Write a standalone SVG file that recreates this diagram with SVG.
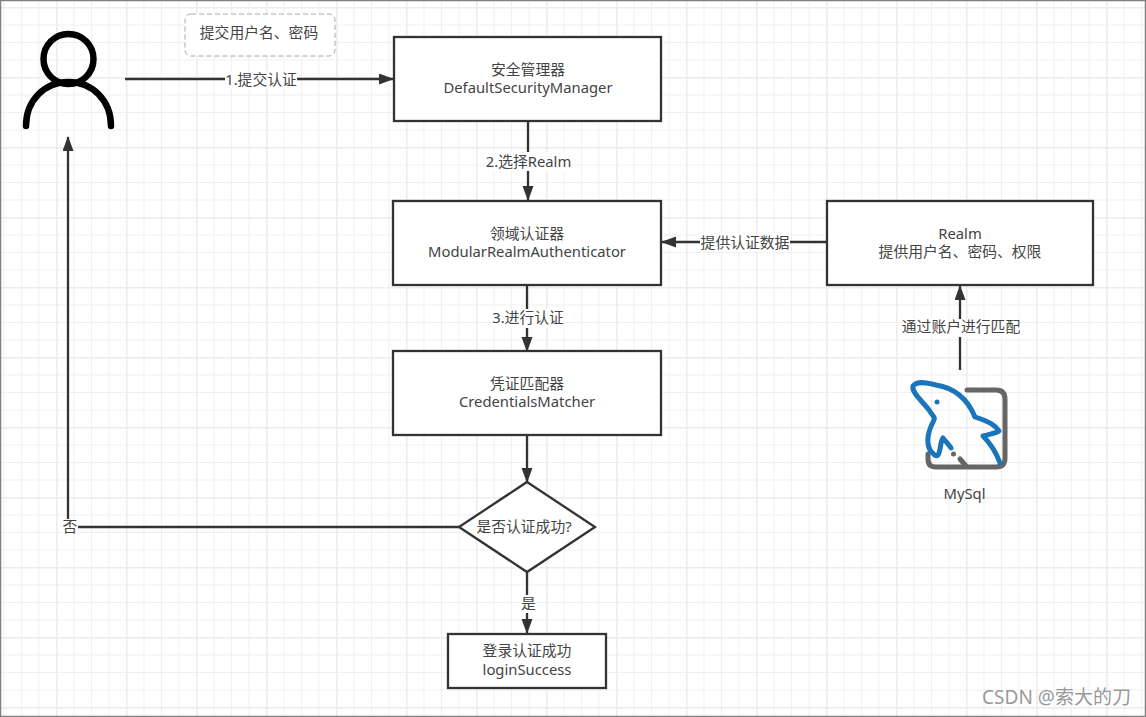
<svg xmlns="http://www.w3.org/2000/svg" width="1146" height="717" viewBox="0 0 1146 717">
<style>
text{font-family:"Noto Sans","Noto Sans CJK SC",sans-serif;font-size:14.8px;fill:#444;text-anchor:middle}
.n{fill:#fff;stroke:#333;stroke-width:2.300}
.c{fill:none;stroke:#333;stroke-width:2.300}
.lb{fill:#fff;stroke:none}
</style>
<defs>
<marker id="a" markerUnits="userSpaceOnUse" markerWidth="16" markerHeight="12" refX="14" refY="5.500" orient="auto"><path d="M0 0L15 5.500L0 11L0 0Z" fill="#333"/></marker>
<pattern id="g" width="17.5" height="17.5" patternUnits="userSpaceOnUse" x="3.5" y="-10.5"><path d="M0.5 0V17.5M0 0.5H17.5" fill="none" stroke="#f0f0f0" stroke-width="1"/></pattern>
<pattern id="G" width="70" height="70" patternUnits="userSpaceOnUse" x="-14" y="7"><path d="M0.5 0V70M0 0.5H70" fill="none" stroke="#ececec" stroke-width="2"/></pattern>
</defs>
<rect width="1146" height="717" fill="#fff"/>
<rect width="1146" height="717" fill="url(#g)"/>
<rect width="1146" height="717" fill="url(#G)"/>
<rect x="0.5" y="0.5" width="1145" height="716" fill="none" stroke="#808080" stroke-width="1.5"/>
<g id="connectors">
<path class="c" d="M125 79H393" marker-end="url(#a)"/>
<path class="c" d="M528 122V200" marker-end="url(#a)"/>
<path class="c" d="M527 285V351" marker-end="url(#a)"/>
<path class="c" d="M527 436V482" marker-end="url(#a)"/>
<path class="c" d="M527 572V633" marker-end="url(#a)"/>
<path class="c" d="M459 527H68V137" marker-end="url(#a)"/>
<path class="c" d="M827 242H662" marker-end="url(#a)"/>
<path class="c" d="M960 370V286" marker-end="url(#a)"/>
<rect class="lb" x="225" y="71" width="72" height="18"/>
<text x="261" y="85">1.提交认证</text>
<rect class="lb" x="486" y="152" width="84" height="19"/>
<text x="528.500" y="167">2.选择Realm</text>
<rect class="lb" x="492" y="309" width="72" height="19"/>
<text x="528" y="323">3.进行认证</text>
<rect class="lb" x="62" y="519" width="16" height="18"/>
<text x="70" y="532">否</text>
<rect class="lb" x="520" y="595" width="16" height="18"/>
<text x="528.500" y="609">是</text>
<rect class="lb" x="700" y="234" width="90" height="18"/>
<text x="745" y="248">提供认证数据</text>
<rect class="lb" x="902" y="319" width="118" height="18"/>
<text x="961" y="332">通过账户进行匹配</text>
</g>
<g id="user" fill="none" stroke="#000" stroke-width="6.500" stroke-linecap="round">
<circle cx="68.500" cy="59" r="25"/>
<path d="M26 126C26 100 45 82 68.500 82C92 82 111 100 111 126"/>
</g>
<g id="note">
<rect x="185" y="14" width="150" height="42" rx="6" fill="#fff" stroke="#aaa" stroke-dasharray="5 3"/>
<text x="259" y="38">提交用户名、密码</text>
</g>
<g id="security-manager">
<rect class="n" x="394" y="37" width="267" height="84"/>
<text x="528" y="74.500">安全管理器</text>
<text x="528" y="93">DefaultSecurityManager</text>
</g>
<g id="authenticator">
<rect class="n" x="393" y="201" width="268" height="84"/>
<text x="527" y="238.500">领域认证器</text>
<text x="527" y="257">ModularRealmAuthenticator</text>
</g>
<g id="matcher">
<rect class="n" x="393" y="351" width="268" height="84"/>
<text x="527" y="388.500">凭证匹配器</text>
<text x="527" y="407">CredentialsMatcher</text>
</g>
<g id="decision">
<path class="n" d="M527 482L595 527L527 572L459 527Z"/>
<text x="524" y="532">是否认证成功?</text>
</g>
<g id="login-success">
<rect class="n" x="448" y="634" width="158" height="54"/>
<text x="527" y="656">登录认证成功</text>
<text x="527" y="675">loginSuccess</text>
</g>
<g id="realm">
<rect class="n" x="827" y="201" width="266" height="84"/>
<text x="960" y="238.500">Realm</text>
<text x="960" y="257">提供用户名、密码、权限</text>
</g>
<g id="mysql" fill="none" stroke-linecap="round" stroke-linejoin="round">
<path d="M967 390H996Q1005 390 1005 399V458Q1005 467 996 467H936Q928 467 928 459V454" stroke="#666" stroke-width="5"/>
<path d="M960 459L966 466" stroke="#666" stroke-width="5"/>
<circle cx="953.500" cy="454" r="2.500" fill="#666"/>
<path d="M1000 463C996 452 991 444 983 436C990 434 997 433 999 431C995 425 990 422 975 417C968 400 955 388 936 385C925 382 917 381 913 386C911 392 923 402 929 410C934 418 936 417 933 422C928 432 926 442 930 450C934 455 936 457 938 455C941 450 940 442 943 438C947 443 950 446 951 448" stroke="#1b75bb" stroke-width="5"/>
<circle cx="937" cy="402" r="2.500" fill="#1b75bb"/>
<text x="964.500" y="499">MySql</text>
</g>
<text x="1056.500" y="704" style="font-size:19px;fill:#999">CSDN @索大的刀</text>
</svg>
